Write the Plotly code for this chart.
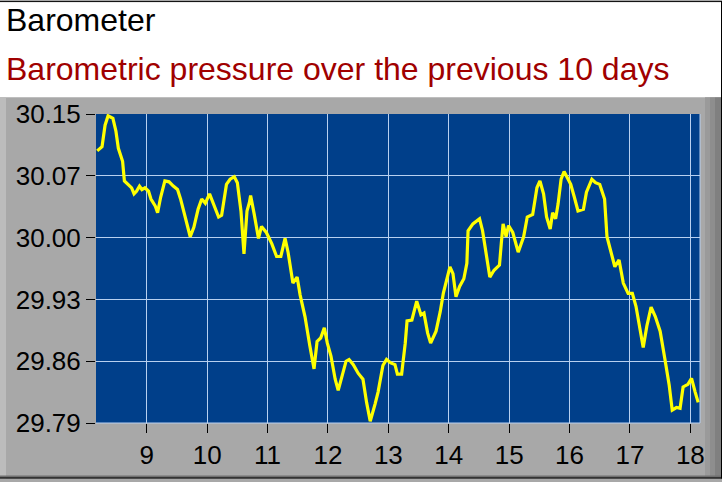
import plotly.graph_objects as go

# --- DATA ---
days = [
    8.18, 8.26, 8.31, 8.36, 8.44, 8.49, 8.53, 8.60, 8.63, 8.70, 8.75, 8.79, 8.83, 8.88, 8.92, 8.97,
    9.03, 9.07, 9.14, 9.18, 9.23, 9.30, 9.37, 9.44, 9.51, 9.56, 9.63, 9.72, 9.78, 9.85, 9.91, 9.97,
    10.04, 10.10, 10.19, 10.24, 10.32, 10.38, 10.45, 10.50, 10.56, 10.61, 10.66, 10.70, 10.72, 10.78,
    10.85, 10.90, 10.98, 11.07, 11.15, 11.22, 11.29, 11.34, 11.42, 11.46, 11.49, 11.54, 11.62, 11.70,
    11.77, 11.82, 11.88, 11.94, 11.99, 12.05, 12.12, 12.17, 12.23, 12.30, 12.35, 12.42, 12.50, 12.58,
    12.64, 12.70, 12.78, 12.83, 12.91, 12.97, 13.04, 13.11, 13.15, 13.22, 13.28, 13.31, 13.39, 13.47,
    13.54, 13.59, 13.65, 13.70, 13.79, 13.86, 13.91, 13.97, 14.02, 14.07, 14.12, 14.18, 14.25, 14.30,
    14.32, 14.40, 14.51, 14.56, 14.63, 14.68, 14.75, 14.84, 14.87, 14.90, 14.95, 14.99, 15.06, 15.15,
    15.24, 15.30, 15.39, 15.46, 15.51, 15.57, 15.62, 15.68, 15.72, 15.77, 15.81, 15.86, 15.91, 15.97,
    16.02, 16.08, 16.14, 16.23, 16.28, 16.37, 16.43, 16.50, 16.58, 16.62, 16.65, 16.71, 16.75, 16.82,
    16.89, 16.97, 17.04, 17.10, 17.17, 17.22, 17.28, 17.35, 17.42, 17.50, 17.58, 17.65, 17.70, 17.77,
    17.83, 17.88, 17.96, 18.02, 18.08, 18.13,
]
pressure = [
    30.107, 30.112, 30.137, 30.148, 30.145, 30.130, 30.110, 30.095, 30.072, 30.068, 30.064, 30.057,
    30.060, 30.066, 30.062, 30.064, 30.060, 30.051, 30.043, 30.035, 30.053, 30.072, 30.071, 30.066,
    30.062, 30.051, 30.030, 30.007, 30.018, 30.039, 30.051, 30.046, 30.057, 30.047, 30.030, 30.032,
    30.068, 30.074, 30.077, 30.070, 30.037, 29.987, 30.037, 30.047, 30.055, 30.033, 30.005, 30.019,
    30.012, 29.999, 29.984, 29.984, 30.005, 29.989, 29.953, 29.957, 29.960, 29.939, 29.914, 29.880,
    29.853, 29.885, 29.889, 29.901, 29.883, 29.868, 29.841, 29.828, 29.845, 29.862, 29.864, 29.858,
    29.848, 29.841, 29.814, 29.792, 29.812, 29.826, 29.857, 29.864, 29.860, 29.858, 29.847, 29.847,
    29.883, 29.909, 29.910, 29.932, 29.916, 29.918, 29.895, 29.883, 29.897, 29.920, 29.941, 29.958,
    29.972, 29.964, 29.937, 29.949, 29.958, 29.976, 30.014, 30.022, 30.028, 30.014, 29.980, 29.960,
    29.968, 29.974, 29.999, 30.022, 30.007, 30.020, 30.012, 29.989, 30.007, 30.030, 30.033, 30.064,
    30.072, 30.057, 30.030, 30.016, 30.035, 30.028, 30.045, 30.074, 30.083, 30.074, 30.068, 30.053,
    30.037, 30.039, 30.059, 30.074, 30.070, 30.068, 30.051, 30.007, 29.999, 29.985, 29.972, 29.980,
    29.953, 29.941, 29.941, 29.926, 29.895, 29.878, 29.903, 29.925, 29.914, 29.897, 29.864, 29.834,
    29.805, 29.808, 29.807, 29.832, 29.835, 29.842, 29.826, 29.814,
]
x_ticks = [9, 10, 11, 12, 13, 14, 15, 16, 17, 18]
y_ticks = [29.79, 29.862, 29.934, 30.006, 30.078, 30.15]
y_labels = ["29.79", "29.86", "29.93", "30.00", "30.07", "30.15"]

title = "Barometer"
subtitle = "Barometric pressure over the previous 10 days"

# --- LAYOUT GEOMETRY ---
FW, FH = 722, 482
L, R, T, B = 96, 22, 114, 56
W, H = FW - L - R, FH - T - B
FONT = "Liberation Sans, Arial, sans-serif"


def px(x):
    return (x - L) / W


def py(y):
    return (T + H - y) / H


def rect(x0, y0, x1, y1, color):
    return dict(type="rect", xref="paper", yref="paper", layer="below",
                x0=px(x0), x1=px(x1), y0=py(y0), y1=py(y1),
                fillcolor=color, line=dict(width=0))


def line(x0, y0, x1, y1, color, width=1):
    return dict(type="line", xref="paper", yref="paper",
                x0=px(x0), x1=px(x1), y0=py(y0), y1=py(y1),
                line=dict(color=color, width=width))


shapes = [
    rect(0, 0, FW, 97, "white"),          # title band
    rect(0, 97, 6, FH, "#BCBCBC"),        # left bevel
    rect(705, 97, 710, FH, "#9A9A9A"),    # right bevel
    rect(710, 97, 715, FH, "#8E8E8E"),
    rect(715, 97, FW, FH, "#808080"),
    rect(0, 479, FW, FH, "#707070"),      # bottom bevel
    line(96, 426, 700, 426, "#B8D0F0"),   # plot frame bottom
    line(700, 114, 700, 426, "#B8D0F0"),  # plot frame right
    line(0, 0.5, FW, 0.5, "black"),       # outer border
    line(FW - 0.5, 0, FW - 0.5, FH, "black"),
    line(0, FH - 0.5, FW, FH - 0.5, "black"),
]

fig = go.Figure()
fig.add_trace(go.Scatter(x=days, y=pressure, mode="lines",
                         line=dict(color="#FFFF00", width=3.2), hoverinfo="x+y"))

fig.update_layout(
    width=FW, height=FH,
    margin=dict(l=L, r=R, t=T, b=B, pad=0),
    paper_bgcolor="#A8A8A8",
    plot_bgcolor="#003F8A",
    showlegend=False,
    font=dict(family=FONT, size=26, color="black"),
    shapes=shapes,
    annotations=[
        dict(text=title, xref="paper", yref="paper", x=px(4), y=py(19.3),
             xanchor="left", yanchor="middle", showarrow=False,
             font=dict(family=FONT, size=32, color="black")),
        dict(text=subtitle, xref="paper", yref="paper", x=px(4), y=py(68.6),
             xanchor="left", yanchor="middle", showarrow=False,
             font=dict(family=FONT, size=32, color="#A00000")),
    ],
    xaxis=dict(
        range=[8.16, 18.16], tickvals=x_ticks,
        ticks="outside", ticklen=9, tickcolor="black", tickwidth=1,
        showgrid=True, gridcolor="#B8D0F0", gridwidth=1,
        zeroline=False, showline=False, fixedrange=True,
    ),
    yaxis=dict(
        range=[29.79, 30.15], tickvals=y_ticks, ticktext=y_labels,
        ticks="outside", ticklen=9, tickcolor="black", tickwidth=1,
        showgrid=True, gridcolor="#B8D0F0", gridwidth=1,
        zeroline=False, showline=False, fixedrange=True,
    ),
)

# page default body margin would shift the figure; drop it
fig.write_html("out.html", config={"displayModeBar": False},
               post_script="document.body.style.margin='0';")
